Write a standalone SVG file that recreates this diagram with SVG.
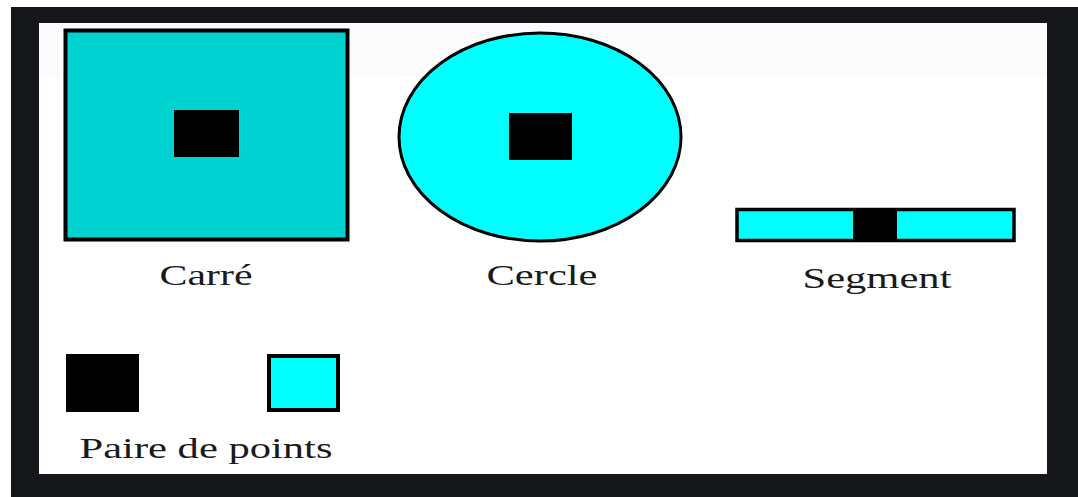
<svg xmlns="http://www.w3.org/2000/svg" width="1078" height="497" viewBox="0 0 1078 497">
<style>
.lbl{font-family:"Liberation Serif","Times New Roman",serif;font-size:30px;fill:#1a1a1a}
.pt{fill:#000}
.cy{fill:#00ffff;stroke:#000}
</style>
<rect x="0" y="0" width="1078" height="497" fill="#ffffff"/>
<rect x="11" y="7" width="1067" height="490" fill="#16171b"/>
<rect x="39" y="23" width="1008" height="451" fill="#ffffff"/>
<rect x="39" y="23" width="1008" height="54" fill="#fcfcfc"/>
<g id="carre">
<rect x="65.5" y="30.5" width="282" height="209" fill="#00d2d2" stroke="#000" stroke-width="4"/>
<rect x="174" y="110" width="65" height="47" class="pt"/>
<text x="206" y="285" text-anchor="middle" class="lbl" textLength="93" lengthAdjust="spacingAndGlyphs">Carré</text>
</g>
<g id="cercle">
<ellipse cx="540" cy="137" rx="141" ry="104" class="cy" stroke-width="3"/>
<rect x="509" y="113" width="63" height="47" class="pt"/>
<text x="542" y="285" text-anchor="middle" class="lbl" textLength="111" lengthAdjust="spacingAndGlyphs">Cercle</text>
</g>
<g id="segment">
<rect x="737" y="209.5" width="277" height="31" class="cy" stroke-width="3.5"/>
<rect x="853" y="209" width="44" height="32" class="pt"/>
<text x="877" y="288" text-anchor="middle" class="lbl" textLength="149" lengthAdjust="spacingAndGlyphs">Segment</text>
</g>
<g id="paire">
<rect x="66" y="354" width="73" height="58" class="pt"/>
<rect x="269" y="356" width="69" height="54" class="cy" stroke-width="4"/>
<text x="206" y="458" text-anchor="middle" class="lbl" textLength="253" lengthAdjust="spacingAndGlyphs">Paire de points</text>
</g>
<g id="connectors"/>
</svg>
